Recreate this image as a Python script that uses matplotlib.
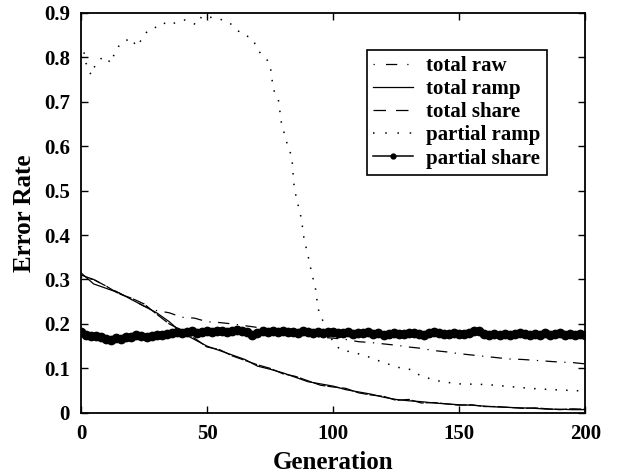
import numpy as np
import matplotlib.pyplot as plt
from matplotlib.lines import Line2D

plt.rcParams['font.family'] = ['Liberation Serif', 'DejaVu Serif']
plt.rcParams['font.weight'] = 'bold'

# generations sampled every 5 for the "total" curves
gen5 = list(range(0, 201, 5))

total_raw = [0.305, 0.300, 0.285, 0.270, 0.255, 0.240, 0.230, 0.225, 0.215, 0.213,
             0.205, 0.203, 0.200, 0.196, 0.192, 0.190, 0.186, 0.180, 0.175, 0.170,
             0.168, 0.165, 0.160, 0.158, 0.155, 0.152, 0.148, 0.145, 0.140, 0.137,
             0.133, 0.130, 0.127, 0.124, 0.121, 0.120, 0.118, 0.116, 0.114, 0.113,
             0.110]

total_ramp = [0.315, 0.290, 0.280, 0.270, 0.255, 0.240, 0.225, 0.205, 0.180, 0.165,
              0.150, 0.140, 0.130, 0.120, 0.105, 0.098, 0.090, 0.080, 0.070, 0.065,
              0.060, 0.052, 0.047, 0.042, 0.035, 0.030, 0.027, 0.025, 0.022, 0.020,
              0.018, 0.017, 0.015, 0.013, 0.012, 0.011, 0.010, 0.008, 0.008, 0.007,
              0.007]

total_share = [0.310, 0.300, 0.285, 0.268, 0.258, 0.245, 0.222, 0.200, 0.185, 0.168,
               0.148, 0.142, 0.128, 0.118, 0.108, 0.100, 0.088, 0.082, 0.072, 0.062,
               0.058, 0.055, 0.045, 0.040, 0.037, 0.028, 0.030, 0.022, 0.023, 0.020,
               0.017, 0.018, 0.014, 0.014, 0.012, 0.010, 0.011, 0.009, 0.007, 0.009,
               0.008]

# partial ramp read point by point (denser where it drops)
pr_gen = [0, 1, 2, 4, 6, 9, 12, 13.5, 16, 20, 22, 24.7, 26.7, 30, 32.6, 34.6, 38.6,
          41.3, 45.9, 47.9, 51.2, 53.8, 58.4, 61.8, 63.8, 65.8, 68.4, 69.7, 72.3,
          73.7, 75, 76.3, 78.3, 79, 79.6, 81, 82, 83.6, 84, 84.3, 85, 86, 87.3,
          87.9, 88.5, 89.5, 90.7, 91.5, 92.9, 93.5, 94.2, 96, 98, 100, 102.8,
          108.7, 113, 120, 126, 131, 135, 143, 150, 158, 162, 170, 178, 187, 195, 200]
partial_ramp = [0.800, 0.817, 0.787, 0.760, 0.787, 0.802, 0.787, 0.813, 0.833, 0.843,
                0.824, 0.845, 0.862, 0.868, 0.878, 0.872, 0.880, 0.884, 0.873, 0.892,
                0.890, 0.888, 0.880, 0.863, 0.851, 0.848, 0.840, 0.818, 0.803, 0.795,
                0.783, 0.728, 0.704, 0.674, 0.648, 0.622, 0.600, 0.577, 0.550, 0.520,
                0.495, 0.470, 0.440, 0.416, 0.390, 0.367, 0.337, 0.314, 0.284, 0.258,
                0.232, 0.206, 0.180, 0.160, 0.142, 0.135, 0.128, 0.113, 0.102, 0.097,
                0.082, 0.070, 0.065, 0.064, 0.063, 0.059, 0.055, 0.052, 0.050, 0.049]

# partial share, every 2 generations
gen2 = list(range(0, 201, 2))
partial_share = [0.182, 0.176, 0.172, 0.173, 0.170, 0.166, 0.164, 0.168, 0.167, 0.170,
                 0.171, 0.174, 0.172, 0.170, 0.173, 0.174, 0.176, 0.177, 0.180, 0.182,
                 0.179, 0.181, 0.183, 0.180, 0.182, 0.184, 0.181, 0.183, 0.185, 0.182,
                 0.184, 0.187, 0.183, 0.181, 0.176, 0.180, 0.183, 0.181, 0.184, 0.182,
                 0.183, 0.181, 0.182, 0.180, 0.183, 0.181, 0.180, 0.182, 0.179, 0.181,
                 0.182, 0.180, 0.179, 0.181, 0.178, 0.180, 0.179, 0.181, 0.177, 0.179,
                 0.176, 0.178, 0.180, 0.178, 0.177, 0.179, 0.180, 0.178, 0.176, 0.179,
                 0.182, 0.180, 0.178, 0.177, 0.179, 0.178, 0.177, 0.179, 0.183, 0.185,
                 0.178, 0.175, 0.178, 0.176, 0.178, 0.175, 0.177, 0.179, 0.177, 0.175,
                 0.178, 0.176, 0.179, 0.175, 0.177, 0.179, 0.176, 0.178, 0.175, 0.177,
                 0.176]

labels = ['total raw', 'total ramp', 'total share', 'partial ramp', 'partial share']

raw_style = (0, (1, 6, 9, 6))
share_style = (0, (10, 1.5))
dot_style = (0, (1, 6))

fig = plt.figure(figsize=(6.18, 4.75), dpi=100)
ax = fig.add_axes([0.131, 0.131, 0.816, 0.842])

ax.plot(gen5, total_raw, color='k', lw=0.9, linestyle=raw_style)
ax.plot(gen5, total_ramp, color='k', lw=0.9)
ax.plot(gen5, total_share, color='k', lw=0.9, linestyle=share_style)
ax.plot(pr_gen, partial_ramp, color='k', lw=1.1, linestyle=dot_style)
ax.plot(gen2, partial_share, color='k', lw=2, marker='o', markersize=6)

ax.set_xlim(0, 200)
ax.set_ylim(0, 0.9)
ax.set_xticks([0, 50, 100, 150, 200])
ax.set_yticks([0, 0.1, 0.2, 0.3, 0.4, 0.5, 0.6, 0.7, 0.8, 0.9])
ax.set_yticklabels(['0', '0.1', '0.2', '0.3', '0.4', '0.5', '0.6', '0.7', '0.8', '0.9'])
ax.tick_params(direction='in', top=True, right=True, length=5, width=1,
               labelsize=15, pad=8)
for s in ax.spines.values():
    s.set_linewidth(1.3)

ax.set_xlabel('Generation', fontsize=18, fontweight='bold', labelpad=5)
ax.set_ylabel('Error Rate', fontsize=18, fontweight='bold', labelpad=6)

handles = [
    Line2D([], [], color='k', lw=0.9, linestyle=(0, (1, 9, 9, 8))),
    Line2D([], [], color='k', lw=0.9),
    Line2D([], [], color='k', lw=0.9, linestyle=(0, (10, 8))),
    Line2D([], [], color='k', lw=1.1, linestyle=(0, (1, 7))),
    Line2D([], [], color='k', lw=1.1, marker='o', markersize=3.5),
]
leg = ax.legend(handles, labels, loc='upper left', bbox_to_anchor=(0.567, 0.9075),
                borderaxespad=0, fontsize=15, handlelength=1.9, handletextpad=0.65,
                labelspacing=0.15, borderpad=0.3, fancybox=False, framealpha=1,
                edgecolor='k')
leg.get_frame().set_linewidth(1.2)

fig.savefig('out.png', dpi=100)
